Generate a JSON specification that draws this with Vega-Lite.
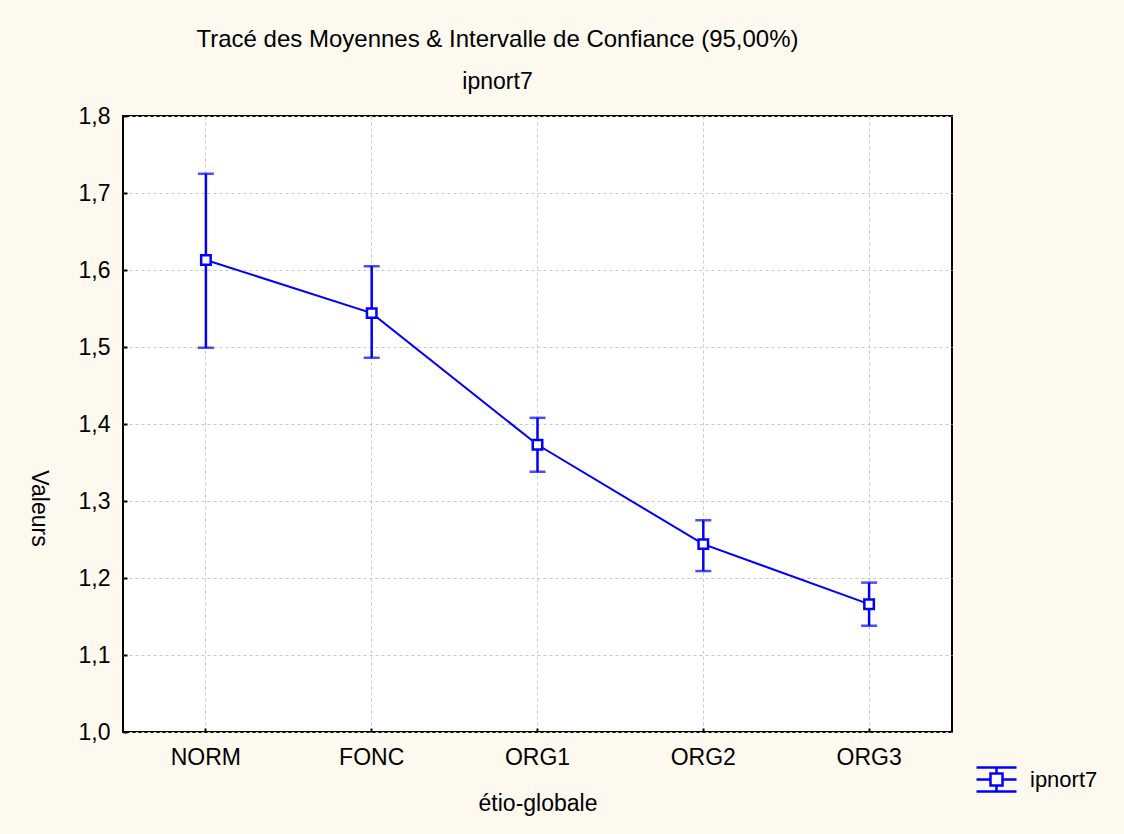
{
  "$schema": "https://vega.github.io/schema/vega-lite/v6.json",
  "autosize": "none",
  "width": 829,
  "height": 616,
  "padding": {"left": 123, "top": 116, "right": 172, "bottom": 102},
  "background": "#FDF9EF",
  "title": {
    "text": "Tracé des Moyennes & Intervalle de Confiance (95,00%)",
    "subtitle": "ipnort7",
    "anchor": "middle",
    "frame": "group",
    "dx": -40,
    "offset": 11,
    "font": "Liberation Sans",
    "fontSize": 24,
    "fontWeight": "normal",
    "color": "#000000",
    "subtitleFont": "Liberation Sans",
    "subtitleFontSize": 23,
    "subtitleColor": "#000000",
    "subtitlePadding": 19
  },
  "config": {
    "view": {"stroke": "#000000", "strokeWidth": 2, "fill": "#FFFFFF"},
    "font": "Liberation Sans",
    "axis": {
      "labelFont": "Liberation Sans",
      "titleFont": "Liberation Sans",
      "labelFontSize": 23,
      "titleFontSize": 23,
      "labelColor": "#000000",
      "titleColor": "#000000",
      "titleFontWeight": "normal",
      "domain": false,
      "gridColor": "#C8C8C8",
      "gridDash": [3, 3],
      "gridWidth": 1,
      "tickColor": "#000000",
      "tickWidth": 2
    }
  },
  "data": {
    "values": [
      {"cat": "NORM", "mean": 1.613, "lo": 1.499, "hi": 1.725, "series": "ipnort7"},
      {"cat": "FONC", "mean": 1.544, "lo": 1.486, "hi": 1.605, "series": "ipnort7"},
      {"cat": "ORG1", "mean": 1.373, "lo": 1.338, "hi": 1.408, "series": "ipnort7"},
      {"cat": "ORG2", "mean": 1.244, "lo": 1.209, "hi": 1.275, "series": "ipnort7"},
      {"cat": "ORG3", "mean": 1.166, "lo": 1.138, "hi": 1.194, "series": "ipnort7"}
    ]
  },
  "encoding": {
    "x": {
      "field": "cat",
      "type": "nominal",
      "sort": null,
      "scale": {"paddingInner": 0, "paddingOuter": 0},
      "axis": {
        "title": "étio-globale",
        "labelAngle": 0,
        "bandPosition": 0.5,
        "grid": true,
        "tickSize": -4,
        "labelPadding": 18,
        "titleY": 71,
        "titleBaseline": "middle"
      }
    }
  },
  "layer": [
    {
      "mark": {"type": "rule", "color": "#0000FF", "strokeWidth": 2.5},
      "encoding": {
        "y": {
          "field": "lo",
          "type": "quantitative",
          "scale": {"domain": [1.0, 1.8], "nice": false, "zero": false},
          "axis": {
            "title": "Valeurs",
            "values": [1.0, 1.1, 1.2, 1.3, 1.4, 1.5, 1.6, 1.7, 1.8],
            "labelExpr": "replace(format(datum.value, '.1f'), '.', ',')",
            "grid": true,
            "tickSize": -4,
            "labelPadding": 17,
            "titleAngle": 90,
            "titleX": -85,
            "titleY": 392,
            "titleBaseline": "middle",
            "titleAlign": "center"
          }
        },
        "y2": {"field": "hi"}
      }
    },
    {
      "mark": {"type": "tick", "color": "#0000FF", "thickness": 2.5, "size": 16, "orient": "horizontal"},
      "encoding": {"y": {"field": "hi", "type": "quantitative"}}
    },
    {
      "mark": {"type": "tick", "color": "#0000FF", "thickness": 2.5, "size": 16, "orient": "horizontal"},
      "encoding": {"y": {"field": "lo", "type": "quantitative"}}
    },
    {
      "mark": {"type": "line", "color": "#0000FF", "strokeWidth": 2},
      "encoding": {"y": {"field": "mean", "type": "quantitative"}}
    },
    {
      "mark": {"type": "point", "shape": "square", "filled": true, "fill": "#FFFFFF", "size": 90, "strokeWidth": 2.5, "opacity": 1},
      "encoding": {
        "y": {"field": "mean", "type": "quantitative"},
        "stroke": {
          "field": "series",
          "type": "nominal",
          "scale": {"range": ["#0000FF"]},
          "legend": {
            "title": null,
            "orient": "none",
            "legendX": 852,
            "legendY": 642,
            "symbolType": "M-1,-0.6H1M-1,0.6H1M-1,0H-0.3M0.3,0H1M0,-0.6V-0.3M0,0.3V0.6M-0.3,-0.3H0.3V0.3H-0.3Z",
            "symbolSize": 1600,
            "symbolStrokeWidth": 2.5,
            "symbolFillColor": "#FFFFFF",
            "labelFont": "Liberation Sans",
            "labelFontSize": 22,
            "labelColor": "#000000",
            "labelOffset": 12,
            "encode": {"symbols": {"update": {"fill": {"value": "#FFFFFF"}, "stroke": {"value": "#0000FF"}}}}
          }
        }
      }
    }
  ]
}
